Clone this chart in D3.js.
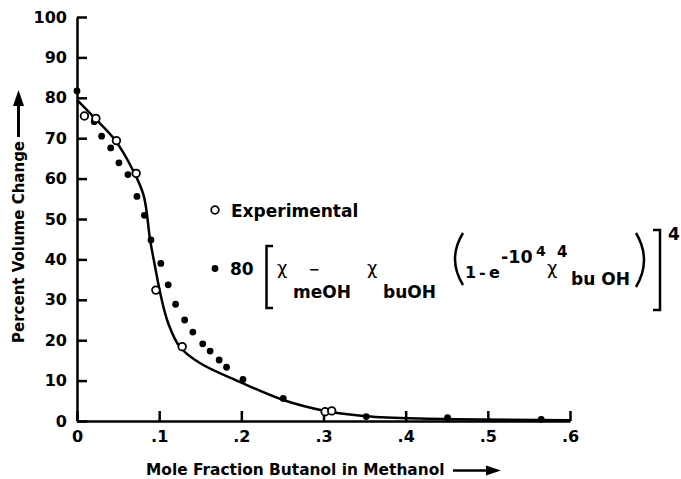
<!DOCTYPE html>
<html>
<head>
<meta charset="utf-8">
<script src="https://cdn.jsdelivr.net/npm/d3@7"></script>
<style>
  body { margin: 0; background: #fff; }
  #chart text { font-family: "DejaVu Sans", sans-serif; font-weight: bold; fill: #000; }
  #chart .thin { font-weight: normal; }
  #chart .axis path, #chart .axis line { stroke: #000; stroke-width: 2.5; }
</style>
</head>
<body>
<svg id="chart" width="681" height="479"></svg>
<script>
  // x ticks and labels
  var xTicks = [0, 0.1, 0.2, 0.3, 0.4, 0.5, 0.6];
  var xTickLabels = ['0', '.1', '.2', '.3', '.4', '.5', '.6'];
  var yTicks = [0, 10, 20, 30, 40, 50, 60, 70, 80, 90, 100];

  // open circles (experimental)
  var expX = [0.009, 0.023, 0.048, 0.072, 0.096, 0.128, 0.302, 0.310];
  var expY = [75.5, 74.9, 69.4, 61.3, 32.4, 18.4, 2.3, 2.5];

  // filled dots (formula)
  var calcX = [0, 0.021, 0.030, 0.041, 0.051, 0.062, 0.073, 0.082, 0.090, 0.102, 0.111,
               0.120, 0.131, 0.141, 0.153, 0.162, 0.173, 0.182, 0.202, 0.251, 0.352, 0.451, 0.565];
  var calcY = [81.7, 74.1, 70.5, 67.6, 63.9, 61.0, 55.6, 50.9, 44.8, 39.0, 33.7,
               28.9, 25.0, 22.0, 19.1, 17.3, 15.1, 13.3, 10.3, 5.6, 1.1, 0.8, 0.4];

  // smooth curve
  var curveX = [0, 0.022, 0.046, 0.067, 0.081, 0.089, 0.095, 0.102, 0.111, 0.125, 0.150, 0.198, 0.251, 0.302, 0.352, 0.417, 0.6];
  var curveY = [79.5, 74.9, 69.6, 62.5, 55.9, 44.8, 38.2, 31.0, 24.2, 18.4, 14.3, 9.7, 5.2, 2.5, 1.2, 0.6, 0.2];

  var svg = d3.select('#chart');

  var x = d3.scaleLinear().domain([0, 0.6]).range([77, 570]);
  var y = d3.scaleLinear().domain([0, 100]).range([421, 17]);

  // axes, ticks pointing inward
  svg.append('g')
      .attr('class', 'axis')
      .attr('transform', 'translate(0,' + y(0) + ')')
      .call(d3.axisBottom(x).tickValues(xTicks).tickSizeInner(-10).tickSizeOuter(0).tickPadding(10)
          .tickFormat(function(d, i) { return xTickLabels[i]; }))
      .call(function(g) { g.selectAll('text').attr('font-size', 16).attr('font-family', null); });

  svg.append('g')
      .attr('class', 'axis')
      .attr('transform', 'translate(' + x(0) + ',0)')
      .call(d3.axisLeft(y).tickValues(yTicks).tickSizeInner(-10).tickSizeOuter(0).tickPadding(10))
      .call(function(g) { g.selectAll('text').attr('font-size', 16).attr('font-family', null); });

  // curve
  var line = d3.line()
      .x(function(d) { return x(d[0]); })
      .y(function(d) { return y(d[1]); })
      .curve(d3.curveCatmullRom);

  svg.append('path')
      .datum(curveX.map(function(v, i) { return [v, curveY[i]]; }))
      .attr('d', line)
      .attr('fill', 'none')
      .attr('stroke', '#000')
      .attr('stroke-width', 2.5);

  svg.selectAll('.calc').data(calcX).enter().append('circle')
      .attr('class', 'calc')
      .attr('cx', function(d) { return x(d); })
      .attr('cy', function(d, i) { return y(calcY[i]); })
      .attr('r', 3.4)
      .attr('fill', '#000');

  svg.selectAll('.exp').data(expX).enter().append('circle')
      .attr('class', 'exp')
      .attr('cx', function(d) { return x(d); })
      .attr('cy', function(d, i) { return y(expY[i]); })
      .attr('r', 3.8)
      .attr('fill', '#fff')
      .attr('stroke', '#000')
      .attr('stroke-width', 1.8);

  // axis titles with arrows
  svg.append('text')
      .attr('x', 146).attr('y', 475)
      .attr('font-size', 15.4)
      .text('Mole Fraction Butanol in Methanol');
  svg.append('path')
      .attr('d', 'M453,470.5 L488,470.5')
      .attr('stroke', '#000').attr('stroke-width', 2.5);
  svg.append('path')
      .attr('d', 'M486,465.5 L501,470.5 L486,475.5 Z')
      .attr('fill', '#000');

  svg.append('text')
      .attr('transform', 'translate(24,343) rotate(-90)')
      .attr('font-size', 15)
      .text('Percent Volume Change');
  svg.append('path')
      .attr('d', 'M18.5,137 L18.5,104')
      .attr('stroke', '#000').attr('stroke-width', 3);
  svg.append('path')
      .attr('d', 'M13,106 L18.5,90 L24,106 Z')
      .attr('fill', '#000');

  // legend
  var lg = svg.append('g');

  function put(str, px, py, size, cls) {
    lg.append('text').attr('x', px).attr('y', py).attr('font-size', size)
        .attr('class', cls || null).text(str);
  }
  function stroke(d) {
    lg.append('path').attr('d', d).attr('fill', 'none')
        .attr('stroke', '#000').attr('stroke-width', 2.5);
  }

  lg.append('circle').attr('cx', 215).attr('cy', 210).attr('r', 3.8)
      .attr('fill', '#fff').attr('stroke', '#000').attr('stroke-width', 1.8);
  put('Experimental', 231, 217, 17);

  lg.append('circle').attr('cx', 215).attr('cy', 268.5).attr('r', 3.4).attr('fill', '#000');
  put('80', 230, 275, 17);
  stroke('M273,246 L266.5,246 L266.5,308 L273,308');
  put('\u03c7', 277, 274, 18, 'thin');
  put('\u2212', 309, 274, 13);
  put('meOH', 293, 298, 17);
  put('\u03c7', 367, 274, 18, 'thin');
  put('buOH', 383, 298, 17);
  stroke('M463,233 Q447,259 463,285');
  put('1', 465, 278, 16);
  put('-', 479, 278, 16);
  put('e', 489, 278, 16);
  put('-10', 501, 263, 17.5);
  put('4', 536, 256, 14);
  put('\u03c7', 547, 274, 18, 'thin');
  put('4', 557, 257, 15);
  put('bu OH', 571, 285, 17);
  stroke('M636,233 Q652,260 636,287');
  stroke('M653,230 L660,230 L660,310 L653,310');
  put('4', 668, 240, 17);
</script>
</body>
</html>
